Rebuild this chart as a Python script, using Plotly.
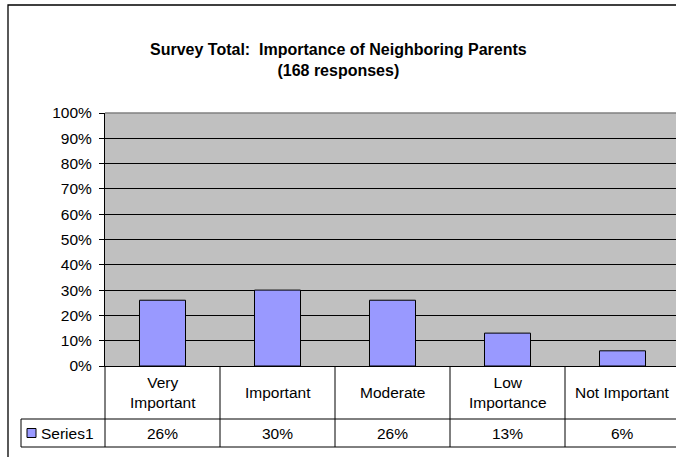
import plotly.graph_objects as go

# Survey results
categories = ["Very<br>Important", "Important", "Moderate", "Low<br>Importance", "Not Important"]
values = [0.26, 0.30, 0.26, 0.13, 0.06]
value_labels = ["26%", "30%", "26%", "13%", "6%"]
series_name = "Series1"
y_ticks = [i / 10 for i in range(11)]
y_tick_labels = [f"{i * 10}%" for i in range(11)]

W, H = 676, 457
L, R, T, B = 105, 0, 113, 91
plot_w = W - L - R
plot_h = H - T - B
cat_px = 115  # width of one category slot in pixels

FONT = "Liberation Sans, Arial, sans-serif"
BAR_COLOR = "#9999FF"

x_idx = list(range(len(categories)))
x_min = -0.5
x_max = x_min + plot_w / cat_px


def px_x(px):
    return (px - L) / plot_w


def px_y(py):
    return (H - B - py) / plot_h


def cat_to_paper(v):
    return (v - x_min) / (x_max - x_min)


fig = go.Figure()
fig.add_trace(go.Bar(
    x=x_idx, y=values, name=series_name,
    marker=dict(color=BAR_COLOR, line=dict(color="black", width=1)),
    hoverinfo="skip",
))

shapes = []
annotations = []

# plot-area top border
shapes.append(dict(type="line", xref="paper", yref="paper", x0=0, x1=1.02, y0=1, y1=1,
                   line=dict(color="#808080", width=1.5), layer="above"))

# outer chart frame
shapes.append(dict(type="rect", xref="paper", yref="paper",
                   x0=px_x(8), x1=px_x(W + 30), y0=px_y(5), y1=px_y(H + 30),
                   line=dict(color="black", width=1.3), fillcolor="rgba(0,0,0,0)"))

# data table
row1_bot = 419
row2_bot = 447
tbl_left = 21
y_top = 0
y_r1 = px_y(row1_bot)
y_r2 = px_y(row2_bot)
right_edge = cat_to_paper(len(categories) - 0.5)
line = dict(color="black", width=1)
shapes.append(dict(type="line", xref="paper", yref="paper", x0=px_x(tbl_left), x1=right_edge,
                   y0=y_r1, y1=y_r1, line=line))
shapes.append(dict(type="line", xref="paper", yref="paper", x0=px_x(tbl_left), x1=right_edge,
                   y0=y_r2, y1=y_r2, line=line))
shapes.append(dict(type="line", xref="paper", yref="paper", x0=px_x(tbl_left), x1=px_x(tbl_left),
                   y0=y_r1, y1=y_r2, line=line))
for i in range(len(categories) + 1):
    xp = cat_to_paper(i - 0.5)
    shapes.append(dict(type="line", xref="paper", yref="paper", x0=xp, x1=xp,
                       y0=y_top, y1=y_r2, line=line))

for i, (cat, lab) in enumerate(zip(categories, value_labels)):
    xc = cat_to_paper(i)
    annotations.append(dict(text=cat, x=xc, y=(y_top + y_r1) / 2, xref="paper", yref="paper",
                            showarrow=False, xanchor="center", yanchor="middle",
                            font=dict(family=FONT, size=15.5, color="black")))
    annotations.append(dict(text=lab, x=xc, y=(y_r1 + y_r2) / 2, xref="paper", yref="paper",
                            showarrow=False, xanchor="center", yanchor="middle",
                            font=dict(family=FONT, size=15.5, color="black")))

# legend key in the table
shapes.append(dict(type="rect", xref="paper", yref="paper",
                   x0=px_x(27), x1=px_x(36), y0=px_y(437.5), y1=px_y(428.5),
                   fillcolor=BAR_COLOR, line=dict(color="black", width=1)))
annotations.append(dict(text=series_name, x=px_x(39), y=(y_r1 + y_r2) / 2, xref="paper", yref="paper",
                        showarrow=False, xanchor="left", yanchor="middle",
                        font=dict(family=FONT, size=15.5, color="black")))

# chart title
annotations.append(dict(text="<b>Survey Total:\u00a0 Importance of Neighboring Parents</b><br><b>(168 responses)</b>",
                        x=px_x(338), y=px_y(60), xref="paper", yref="paper",
                        showarrow=False, xanchor="center", yanchor="middle",
                        font=dict(family=FONT, size=16, color="black")))

fig.update_layout(
    width=W, height=H,
    margin=dict(l=L, r=R, t=T, b=B, pad=0),
    paper_bgcolor="white",
    plot_bgcolor="#C0C0C0",
    showlegend=False,
    bargap=0.6,
    shapes=shapes,
    annotations=annotations,
    font=dict(family=FONT, size=15.5, color="black"),
)
fig.update_xaxes(range=[x_min, x_max], showticklabels=False, showgrid=False, zeroline=False,
                 showline=True, linecolor="black", linewidth=1, ticks="")
fig.update_yaxes(range=[0, 1], tickvals=y_ticks, ticktext=y_tick_labels,
                 showgrid=True, gridcolor="black", gridwidth=1, zeroline=False,
                 showline=True, linecolor="black", linewidth=1,
                 ticks="outside", ticklen=5, tickcolor="black", ticklabelstandoff=4,
                 tickfont=dict(family=FONT, size=15.5, color="black"))

fig.write_html("out.html")
